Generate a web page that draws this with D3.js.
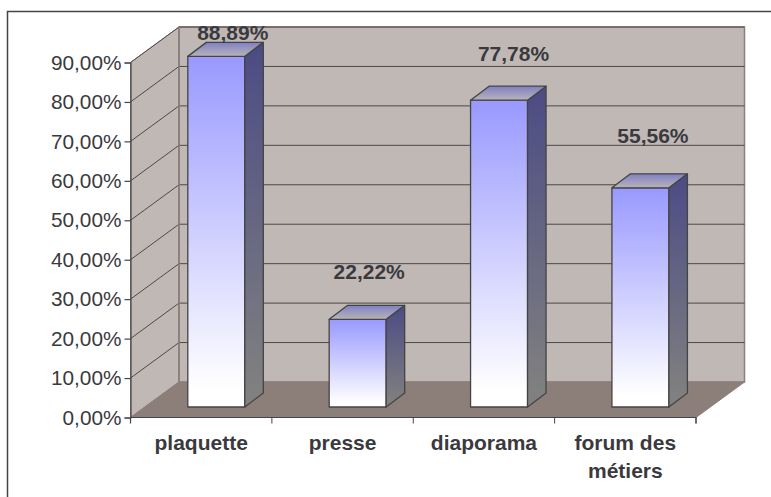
<!DOCTYPE html>
<html>
<head>
<meta charset="utf-8">
<script src="https://cdn.jsdelivr.net/npm/d3@7"></script>
<style>
  body { margin: 0; background: #fff; }
  text { font-family: "Liberation Sans", Arial, sans-serif; fill: #3a3a3e; }
</style>
</head>
<body>
<div id="chart"></div>
<script>
const categories = ["plaquette", "presse", "diaporama", "forum des métiers"];
const values = [88.89, 22.22, 77.78, 55.56];
const valueLabels = ["88,89%", "22,22%", "77,78%", "55,56%"];
const yTicks = [0, 10, 20, 30, 40, 50, 60, 70, 80, 90];
const catLines = [["plaquette"], ["presse"], ["diaporama"], ["forum des", "métiers"]];

const width = 771, height = 497;

// front plane of the fake 3d box, depth is the shift to the back wall
const x = d3.scaleBand().domain(categories).range([130.5, 696]);
const y = d3.scaleLinear().domain([0, 90]).range([417.5, 62.5]);
const depth = {x: 48.5, y: -35.5};
const barW = 57, barDepth = {x: 18.5, y: -14}, barOffset = 57.3, barLift = 10.5;
// hand placed value labels, they do not sit at a constant distance in the source
const labelDx = [45, 40, 43, 41], labelLift = [16, 40, 39, 44.5];

const svg = d3.select("#chart").append("svg")
    .attr("width", width)
    .attr("height", height)
    .style("display", "block");

const defs = svg.append("defs");
function gradient(id, stops) {
    const g = defs.append("linearGradient").attr("id", id)
        .attr("x1", 0).attr("y1", 0).attr("x2", 0).attr("y2", 1);
    stops.forEach(s => g.append("stop").attr("offset", s[0]).attr("stop-color", s[1]));
}
gradient("front", [[0, "#9999ff"], [0.95, "#ffffff"]]);
gradient("side", [[0, "#4b4b85"], [0.95, "#808080"]]);
gradient("top", [[0, "#8080c4"], [1, "#b8b4b8"]]);

const line = d3.line();

// outer frame, open on the right and at the bottom like the source image
svg.append("path")
    .attr("d", line([[7.5, 497], [7.5, 11.5], [771, 11.5]]))
    .attr("fill", "none").attr("stroke", "#444").attr("stroke-width", 1.5);

const x0 = x.range()[0], x1 = x.range()[1], y0 = y(0), y90 = y(90);

// walls and floor
svg.append("path")
    .attr("d", line([[x0, y90], [x0 + depth.x, y90 + depth.y], [x0 + depth.x, y0 + depth.y], [x0, y0]]) + "Z")
    .attr("fill", "#c0b8b5").attr("stroke", "#8c7f7b").attr("stroke-width", 1);
svg.append("path")
    .attr("d", line([[x0 + depth.x, y90 + depth.y], [x1 + depth.x, y90 + depth.y], [x1 + depth.x, y0 + depth.y], [x0 + depth.x, y0 + depth.y]]) + "Z")
    .attr("fill", "#c0b8b5").attr("stroke", "#8c7f7b").attr("stroke-width", 1.5);
svg.append("path")
    .attr("d", line([[x0, y0], [x0 + depth.x, y0 + depth.y], [x1 + depth.x, y0 + depth.y], [x1, y0]]) + "Z")
    .attr("fill", "#8c7f7a").attr("stroke", "#8c7f7a");

// gridlines
yTicks.filter(d => d > 0).forEach(d => {
    svg.append("path")
        .attr("d", line([[x0, y(d)], [x0 + depth.x, y(d) + depth.y], [x1 + depth.x, y(d) + depth.y]]))
        .attr("fill", "none").attr("stroke", "#4a4a4a").attr("stroke-width", 1);
});
svg.append("line")
    .attr("x1", x0 + depth.x).attr("x2", x0 + depth.x)
    .attr("y1", y90 + depth.y).attr("y2", y0 + depth.y)
    .attr("stroke", "#8c7f7b").attr("stroke-width", 1.5);

// axes
const axisY = d3.axisLeft(y).tickValues(yTicks).tickSize(6).tickPadding(3)
    .tickFormat(d => d.toFixed(2).replace(".", ",") + "%");
const gy = svg.append("g").attr("transform", `translate(${x0},0)`).call(axisY);
gy.selectAll("text").style("font-size", "20.8px");

const axisX = d3.axisBottom(x).tickValues([]).tickSize(0);
const gx = svg.append("g").attr("transform", `translate(0,${y0})`).call(axisX);
gx.selectAll(".domain").attr("d", `M${x0},6V0H${x1}V6`);
x.domain().forEach((c, i) => {
    gx.append("line").attr("x1", x0 + x.step() * (i + 1)).attr("x2", x0 + x.step() * (i + 1))
        .attr("y1", 0).attr("y2", 6).attr("stroke", "#444");
});
svg.selectAll(".domain, .tick line").attr("stroke", "#444").attr("stroke-width", 1.2);

// bars
const bars = svg.selectAll("g.bar").data(categories).enter().append("g").attr("class", "bar");
const barLeft = c => x(c) + barOffset;
const baseY = y0 - barLift;
const topY = (c, i) => baseY - (y0 - y(values[i]));

bars.append("rect")
    .attr("x", barLeft).attr("y", topY).attr("width", barW)
    .attr("height", (c, i) => baseY - topY(c, i))
    .attr("fill", "url(#front)");
bars.append("path")
    .attr("d", (c, i) => {
        const l = barLeft(c) + barW, t = topY(c, i);
        return line([[l, t], [l + barDepth.x, t + barDepth.y], [l + barDepth.x, baseY + barDepth.y], [l, baseY]]) + "Z";
    })
    .attr("fill", "url(#side)");
bars.append("path")
    .attr("d", (c, i) => {
        const l = barLeft(c), t = topY(c, i);
        return line([[l, t], [l + barDepth.x, t + barDepth.y], [l + barW + barDepth.x, t + barDepth.y], [l + barW, t]]) + "Z";
    })
    .attr("fill", "url(#top)");
bars.selectAll("rect, path")
    .attr("stroke", "#444").attr("stroke-width", 1.3).attr("stroke-linejoin", "round");

// value labels
svg.selectAll("text.value").data(categories).enter().append("text")
    .attr("class", "value")
    .attr("x", (c, i) => barLeft(c) + labelDx[i])
    .attr("y", (c, i) => topY(c, i) - labelLift[i])
    .attr("text-anchor", "middle")
    .style("font-size", "21px").style("font-weight", "bold")
    .text((c, i) => valueLabels[i]);

// category labels, forum des métiers wraps on two lines
svg.selectAll("text.cat").data(categories).enter().append("text")
    .attr("class", "cat")
    .attr("text-anchor", "middle")
    .style("font-size", "21px").style("font-weight", "bold")
    .each(function (c, i) {
        d3.select(this).selectAll("tspan").data(catLines[i]).enter().append("tspan")
            .attr("x", x(c) + x.bandwidth() / 2)
            .attr("y", (d, j) => 450 + j * 28)
            .text(d => d);
    });
</script>
</body>
</html>
